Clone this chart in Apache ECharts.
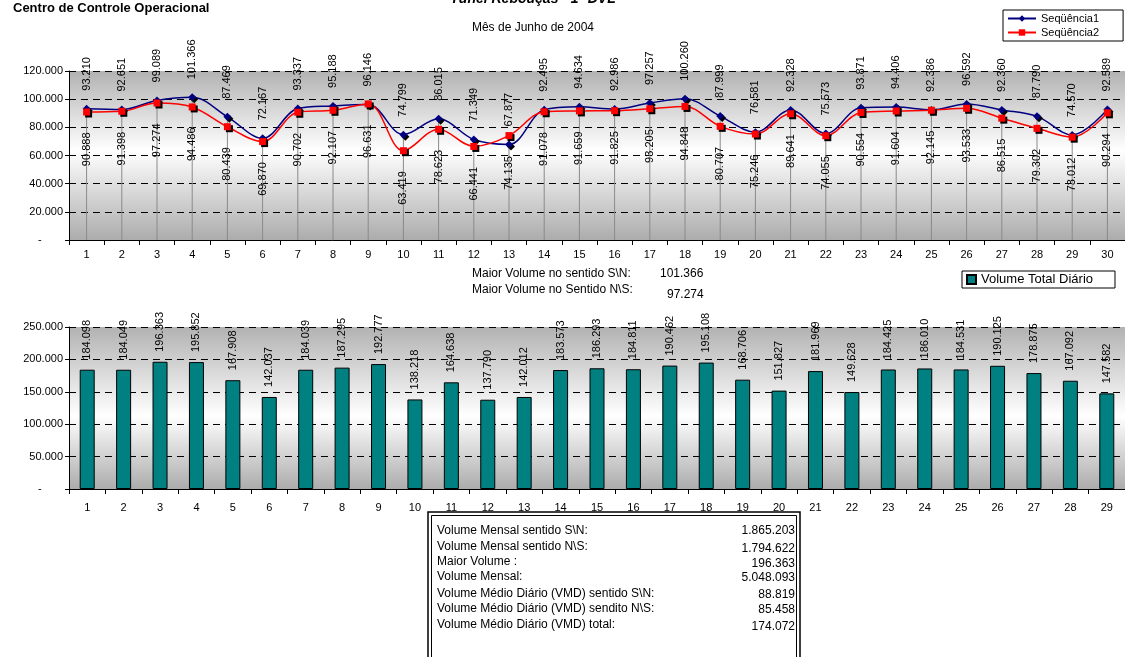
<!DOCTYPE html>
<html>
<head>
<meta charset="utf-8">
<script src="https://cdn.jsdelivr.net/npm/echarts@6/dist/echarts.min.js"></script>
<style>
  html, body { margin: 0; padding: 0; background: #ffffff; }
  #chart { width: 1125px; height: 657px; }
</style>
</head>
<body>
<div id="chart"></div>
<script>
// Daily traffic, Túnel Rebouças, June 2004
const days30 = ['1','2','3','4','5','6','7','8','9','10','11','12','13','14','15','16','17','18','19','20','21','22','23','24','25','26','27','28','29','30'];
const days29 = days30.slice(0, 29);

// direction S\N (Seqüência1)
const seq1 = [93210, 92651, 99089, 101366, 87469, 72167, 93337, 95188, 96146, 74799,
              86015, 71349, 67877, 92495, 94634, 92986, 97257, 100260, 87999, 76581,
              92328, 75573, 93871, 94406, 92386, 96592, 92360, 87790, 74570, 92589];
// direction N\S (Seqüência2)
const seq2 = [90888, 91398, 97274, 94486, 80439, 69870, 90702, 92107, 96631, 63419,
              78623, 66441, 74135, 91078, 91659, 91825, 93205, 94848, 80707, 75246,
              89641, 74055, 90554, 91604, 92145, 93533, 86515, 79302, 73012, 90294];
// daily total volume
const totals = [184098, 184049, 196363, 195852, 167908, 142037, 184039, 187295, 192777, 138218,
                164638, 137790, 142012, 183573, 186293, 184811, 190462, 195108, 168706, 151827,
                181969, 149628, 184425, 186010, 184531, 190125, 178875, 167092, 147582];

const topTicks = { min: 0, max: 120000, interval: 20000 };
const bottomTicks = { min: 0, max: 250000, interval: 50000 };

const summaryLabels = [
  'Volume Mensal sentido S\\N:',
  'Volume Mensal sentido N\\S:',
  'Maior Volume :',
  'Volume Mensal:',
  'Volume Médio Diário (VMD) sentido S\\N:',
  'Volume Médio Diário (VMD) sendito N\\S:',
  'Volume Médio Diário (VMD) total:'
];
const summaryValues = ['1.865.203', '1.794.622', '196.363', '5.048.093', '88.819', '85.458', '174.072'];

function fmt(v) {
  return String(Math.round(v)).replace(/\B(?=(\d{3})+(?!\d))/g, '.');
}
function axisFmt(v) {
  return v === 0 ? '-       ' : fmt(v);
}

const FONT = '"Liberation Sans", Arial, sans-serif';
const dropLine = seq1.map((v, i) => Math.max(v, seq2[i]));

const plotBg = (stopMid) => ({
  type: 'linear', x: 0, y: 0, x2: 0, y2: 1,
  colorStops: [
    { offset: 0, color: '#b2b2b2' },
    { offset: stopMid, color: '#ffffff' },
    { offset: 1, color: '#acacac' }
  ]
});

const axisCommon = {
  axisLine: { show: true, lineStyle: { color: '#000', width: 1 } },
  axisLabel: { color: '#000', fontSize: 11, fontFamily: FONT },
};

const chart = echarts.init(document.getElementById('chart'), null, { renderer: 'canvas' });

const summaryTop = 531;
const summaryRowY = [0, 16, 31, 46, 63, 78, 94];
const summaryValY = [0, 18, 33, 47, 64, 79, 96];

const graphics = [
  { type: 'text', x: 13, y: 8, style: { text: 'Centro de Controle Operacional', font: 'bold 13px ' + FONT, fill: '#000', verticalAlign: 'middle' } },
  { type: 'text', x: 533, y: -1, style: { text: 'Túnel Rebouças - 1ª DVL', font: 'italic bold 14px ' + FONT, fill: '#000', align: 'center', verticalAlign: 'middle' } },
  { type: 'text', x: 533, y: 28, style: { text: 'Mês de Junho de 2004', font: '12px ' + FONT, fill: '#000', align: 'center', verticalAlign: 'middle' } },
  { type: 'text', x: 472, y: 274, style: { text: 'Maior Volume no sentido S\\N:', font: '12px ' + FONT, fill: '#000', verticalAlign: 'middle' } },
  { type: 'text', x: 660, y: 274, style: { text: fmt(Math.max(...seq1)), font: '12px ' + FONT, fill: '#000', verticalAlign: 'middle' } },
  { type: 'text', x: 472, y: 290, style: { text: 'Maior Volume no Sentido N\\S:', font: '12px ' + FONT, fill: '#000', verticalAlign: 'middle' } },
  { type: 'text', x: 667, y: 295, style: { text: fmt(Math.max(...seq2)), font: '12px ' + FONT, fill: '#000', verticalAlign: 'middle' } },
  // summary box with double border
  { type: 'rect', shape: { x: 428, y: 512, width: 372, height: 160 }, style: { fill: '#fff', stroke: '#000', lineWidth: 1.5 } },
  { type: 'rect', shape: { x: 431.5, y: 515.5, width: 365, height: 160 }, style: { fill: 'none', stroke: '#000', lineWidth: 1 } }
];
summaryLabels.forEach((t, i) => {
  graphics.push({ type: 'text', x: 437, y: summaryTop + summaryRowY[i], style: { text: t, font: '12px ' + FONT, fill: '#000', verticalAlign: 'middle' } });
  graphics.push({ type: 'text', x: 795, y: summaryTop + summaryValY[i], style: { text: summaryValues[i], font: '12px ' + FONT, fill: '#000', align: 'right', verticalAlign: 'middle' } });
});

const option = {
  animation: false,
  backgroundColor: '#ffffff',
  textStyle: { fontFamily: FONT },
  grid: [
    { left: 69, top: 71, width: 1061, height: 169, show: true, borderWidth: 0, backgroundColor: plotBg(0.47) },
    { left: 69, top: 327, width: 1056, height: 162, show: true, borderWidth: 0, backgroundColor: plotBg(0.55) }
  ],
  legend: [
    {
      orient: 'vertical', left: 1003, top: 10,
      data: ['Seqüência1', 'Seqüência2'],
      borderColor: '#000', borderWidth: 1, padding: [3, 24, 3, 4], itemGap: 3,
      itemWidth: 28, itemHeight: 8,
      textStyle: { fontSize: 11, fontFamily: FONT, color: '#000' }
    },
    {
      left: 962, top: 271,
      data: ['Volume Total Diário'],
      borderColor: '#000', borderWidth: 1, padding: [2, 22, 2, 4],
      itemWidth: 9, itemHeight: 9, icon: 'rect',
      textStyle: { fontSize: 13, fontFamily: FONT, color: '#000' }
    }
  ],
  xAxis: [
    Object.assign({}, axisCommon, {
      type: 'category', gridIndex: 0, data: days30, boundaryGap: true,
      axisTick: { show: true, length: 5, lineStyle: { color: '#000' } },
      axisLabel: Object.assign({}, axisCommon.axisLabel, { margin: 9 })
    }),
    Object.assign({}, axisCommon, {
      type: 'category', gridIndex: 1, data: days29, boundaryGap: true,
      axisTick: { show: true, length: 5, lineStyle: { color: '#000' } },
      axisLabel: Object.assign({}, axisCommon.axisLabel, { margin: 13 })
    })
  ],
  yAxis: [
    Object.assign({}, axisCommon, {
      type: 'value', gridIndex: 0, min: topTicks.min, max: topTicks.max, interval: topTicks.interval,
      axisTick: { show: true, length: 4, lineStyle: { color: '#000' } },
      axisLabel: Object.assign({}, axisCommon.axisLabel, { formatter: axisFmt, margin: 6 }),
      splitLine: { show: true, lineStyle: { color: '#000', type: [7, 5], width: 1 } }
    }),
    Object.assign({}, axisCommon, {
      type: 'value', gridIndex: 1, min: bottomTicks.min, max: bottomTicks.max, interval: bottomTicks.interval,
      axisTick: { show: true, length: 4, lineStyle: { color: '#000' } },
      axisLabel: Object.assign({}, axisCommon.axisLabel, { formatter: axisFmt, margin: 6 }),
      splitLine: { show: true, lineStyle: { color: '#000', type: [7, 5], width: 1 } }
    })
  ],
  series: [
    {
      // drop lines from each day down to the axis
      name: 'drop', type: 'bar', xAxisIndex: 0, yAxisIndex: 0,
      data: dropLine, barWidth: 1, silent: true, z: 1,
      itemStyle: { color: '#8a8a8a' }
    },
    {
      name: 'Seqüência1', type: 'line', xAxisIndex: 0, yAxisIndex: 0, data: seq1,
      smooth: 0.35, symbol: 'diamond', symbolSize: 8, z: 3,
      lineStyle: { color: '#000080', width: 1.5 },
      itemStyle: { color: '#000080', shadowColor: '#000', shadowOffsetX: 2, shadowOffsetY: 2, shadowBlur: 0 },
      label: {
        show: true, position: 'top', distance: 14, rotate: 90, align: 'left', verticalAlign: 'middle',
        fontSize: 11, fontFamily: FONT, color: '#000', formatter: (p) => fmt(p.value)
      }
    },
    {
      name: 'Seqüência2', type: 'line', xAxisIndex: 0, yAxisIndex: 0, data: seq2,
      smooth: 0.35, symbol: 'rect', symbolSize: 7, z: 4,
      lineStyle: { color: '#ff0000', width: 1.5 },
      itemStyle: { color: '#ff0000', shadowColor: '#000', shadowOffsetX: 2, shadowOffsetY: 2, shadowBlur: 0 },
      label: {
        show: true, position: 'bottom', distance: 17, rotate: 90, align: 'right', verticalAlign: 'middle',
        fontSize: 11, fontFamily: FONT, color: '#000', formatter: (p) => fmt(p.value)
      }
    },
    {
      name: 'Volume Total Diário', type: 'bar', xAxisIndex: 1, yAxisIndex: 1, data: totals,
      barWidth: 15, z: 3,
      itemStyle: { color: '#008080', borderColor: '#000', borderWidth: 1 },
      label: {
        show: true, position: 'top', distance: 10, rotate: 90, align: 'left', verticalAlign: 'middle',
        fontSize: 11, fontFamily: FONT, color: '#000', formatter: (p) => fmt(p.value)
      }
    }
  ],
  graphic: graphics
};

chart.setOption(option);
</script>
</body>
</html>
